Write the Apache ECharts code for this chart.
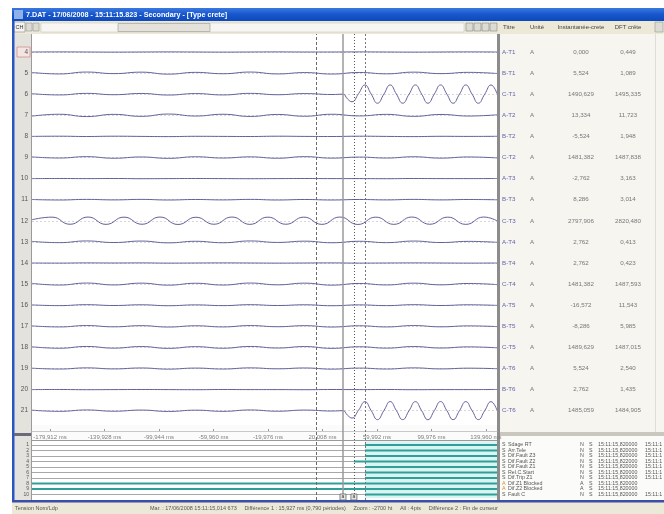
<!DOCTYPE html>
<html><head><meta charset="utf-8">
<script src="https://cdn.jsdelivr.net/npm/echarts@6/dist/echarts.min.js"></script>
<style>html,body{margin:0;padding:0;background:#fff}#c{width:664px;height:514px}</style>
</head><body><div id="c"></div>
<script>
// ---------- data ----------
const channelNumbers = [4,5,6,7,8,9,10,11,12,13,14,15,16,17,18,19,20,21];
const channelTitles = ["A-T1","B-T1","C-T1","A-T2","B-T2","C-T2","A-T3","B-T3","C-T3","A-T4","B-T4","C-T4","A-T5","B-T5","C-T5","A-T6","B-T6","C-T6"];
const channelUnits = ["A","A","A","A","A","A","A","A","A","A","A","A","A","A","A","A","A","A"];
const instantValues = ["0,000","5,524","1490,629","13,334","-5,524","1481,382","-2,762","8,286","2797,906","2,762","2,762","1481,382","-16,572","-8,286","1489,629","5,524","2,762","1485,059"];
const dftValues = ["0,449","1,089","1495,335","11,723","1,948","1487,838","3,163","3,014","2820,480","0,413","0,423","1487,593","11,543","5,985","1487,015","2,540","1,435","1484,905"];
const tableHeaders = ["Titre","Unité","Instantanée-crete","DFT crête"];
const timeTicks = [-179.912,-139.928,-99.944,-59.960,-19.976,20.008,59.992,99.976,139.960];
const timeMin = -193.1, timeMax = 148.1;
const cursorTimes = [15.3, 35.1, 43.1, 51.2];

const noiseTimes = [-193.1,-173,-153,-133,-113,-93,-73,-53,-33,-13,7,27,47,67,87,107,127,148.1];
const aT1 = [0,0.01,0,-0.01,0,0.01,0,-0.01,0,0.01,0,0,0.01,0,-0.01,0,0.01,0];
const bT1 = [0.06,-0.08,0.1,-0.05,0.09,-0.1,0.07,-0.06,0.1,-0.08,0.05,-0.09,0.06,-0.07,0.09,-0.05,0.07,-0.04];
const cT1Pre = [0.05,-0.07,0.08,-0.05,0.07,-0.08,0.06,-0.07,0.08,-0.05,0.06,-0.03];
const cT1FaultTimes = [35.1,38.4,41.7,46.5,51.2,55.8,60.4,65.1,69.7,74.3,78.9,83.6,88.2,92.8,97.4,102.1,106.7,111.3,115.9,120.6,125.2,129.8,134.4,139.1,143.7,148.1];
const cT1FaultValues = [0,-0.45,-0.72,0.05,0.88,0.01,-0.86,0.01,0.88,0.01,-0.86,0.01,0.88,0.01,-0.86,0.01,0.88,0.01,-0.86,0.01,0.88,0.01,-0.86,0.01,0.88,0.05];
const aT2 = [-0.08,0.1,-0.12,0.09,-0.1,0.12,-0.07,0.1,-0.11,0.08,-0.09,0.1,-0.06,0.09,-0.1,0.08,-0.07,0.05];
const bT2 = [0,0.02,-0.01,0.02,0,-0.02,0.01,0,-0.01,0.02,0,-0.01,0.02,0,-0.02,0.01,0,0.01];
const cT2 = [0.06,-0.05,0.08,-0.07,0.05,-0.08,0.07,-0.05,0.06,-0.07,0.08,-0.06,0.04,-0.05,0.07,-0.06,0.05,-0.04];
const aT3 = [0,0.01,0,0.01,-0.01,0,0.01,0,-0.01,0,0.01,0,0,-0.01,0.01,0,0,0.01];
const bT3 = [0.02,-0.03,0.03,-0.02,0.03,-0.03,0.02,-0.02,0.03,-0.03,0.02,-0.03,0.02,-0.02,0.03,-0.02,0.02,-0.01];
const cT3Times = [-193.1,-178.4,-165.2,-152.0,-138.8,-125.6,-112.4,-99.2,-86.0,-72.8,-59.6,-46.4,-33.2,-20.0,-6.8,6.4,19.6,32.8,46.0,59.2,72.4,85.6,98.8,112.0,125.2,138.4,148.1];
const cT3Values = [0.1,0.35,-0.33,0.36,-0.34,0.35,-0.33,0.36,-0.35,0.34,-0.33,0.36,-0.34,0.35,-0.33,0.35,-0.34,0.36,-0.35,0.35,-0.34,0.36,-0.33,0.35,-0.34,0.36,0.0];
const aT4 = [0.05,-0.07,0.09,-0.06,0.08,-0.09,0.06,-0.08,0.09,-0.05,0.07,-0.08,0.06,-0.07,0.08,-0.06,0.05,-0.04];
const bT4 = [0,-0.01,0.01,0,0.01,-0.01,0,0.01,0,-0.01,0,0.01,-0.01,0,0.01,0,-0.01,0];
const cT4 = [0.07,-0.09,0.1,-0.08,0.09,-0.1,0.08,-0.09,0.1,-0.07,0.09,-0.1,0.06,-0.08,0.09,-0.07,0.06,-0.05];
const aT5 = [0.03,-0.04,0.05,-0.03,0.04,-0.05,0.03,-0.04,0.05,-0.03,0.04,-0.05,0.03,-0.04,0.05,-0.03,0.04,-0.02];
const bT5 = [0.04,-0.06,0.07,-0.05,0.06,-0.07,0.05,-0.06,0.07,-0.04,0.06,-0.07,0.05,-0.06,0.07,-0.05,0.04,-0.03];
const cT5 = [0.06,-0.08,0.09,-0.07,0.08,-0.09,0.07,-0.08,0.09,-0.06,0.08,-0.09,0.06,-0.07,0.08,-0.06,0.05,-0.04];
const aT6 = [0.03,-0.05,0.06,-0.04,0.05,-0.06,0.04,-0.05,0.06,-0.03,0.05,-0.06,0.04,-0.05,0.06,-0.04,0.03,-0.02];
const bT6 = [0,0.01,-0.01,0,0.01,0,-0.01,0.01,0,0,-0.01,0.01,0,0.01,-0.01,0,0,0.01];
const cT6Pre = [0.05,-0.06,0.07,-0.05,0.06,-0.07,0.05,-0.06,0.07,-0.05,0.06,-0.03];
const cT6FaultTimes = [35.1,38.4,41.7,46.5,51.2,55.8,60.4,65.1,69.7,74.3,78.9,83.6,88.2,92.8,97.4,102.1,106.7,111.3,115.9,120.6,125.2,129.8,134.4,139.1,143.7,148.1];
const cT6FaultValues = [0,-0.43,-0.7,0.04,0.86,0.01,-0.85,0.01,0.87,0.01,-0.85,0.01,0.86,0.01,-0.86,0.01,0.87,0.01,-0.85,0.01,0.86,0.01,-0.85,0.01,0.86,0.05];

const digitalNumbers = ["1","2","3","4","5","6","7","8","9","10"];
const digitalKinds = ["S","S","S","S","S","S","S","A","A","S"];
const digitalNames = ["Sdage RT","Arr.Tele","Dif.Fault Z3","Dif.Fault Z2","Dif.Fault Z1","Rel.C.Start","Dif.Trip Z1","Dif.Z1 Blocked","Dif.Z2 Blocked","Fault C"];
const digitalFlagA = ["N","N","N","N","N","N","N","A","A","N"];
const digitalFlagB = ["S","S","S","S","S","S","S","S","S","S"];
const digitalTime1 = ["15:11:15,820000","15:11:15,820000","15:11:15,820000","15:11:15,822000","15:11:15,820000","15:11:15,820000","15:11:15,820000","15:11:15,820000","15:11:15,820000","15:11:15,820000"];
const digitalTime2 = ["15:11:1","15:11:1","15:11:1","15:11:1","15:11:1","15:11:1","15:11:1","","","15:11:1"];
const digitalOnTimes = [51.2,51.2,51.2,43.1,51.2,51.2,51.2,-193.1,-193.1,51.2];

const titleText = "7.DAT - 17/06/2008 - 15:11:15.823 - Secondary - [Type crete]";
const statusLeft = "Tension Nom/Ldp";
const statusMain = "Mar. : 17/06/2008 15:11:15,014 673     Différence 1 : 15,927 ms (0,790 périodes)     Zoom : -2700 ht     All : 4pts     Différence 2 : Fin de curseur";

// ---------- build ----------
const pairs = (ts, vs) => vs.map((v, i) => [ts[i], v]);
const analogData = [
  pairs(noiseTimes, aT1), pairs(noiseTimes, bT1),
  pairs(noiseTimes, cT1Pre).concat(pairs(cT1FaultTimes, cT1FaultValues)),
  pairs(noiseTimes, aT2), pairs(noiseTimes, bT2), pairs(noiseTimes, cT2),
  pairs(noiseTimes, aT3), pairs(noiseTimes, bT3), pairs(cT3Times, cT3Values),
  pairs(noiseTimes, aT4), pairs(noiseTimes, bT4), pairs(noiseTimes, cT4),
  pairs(noiseTimes, aT5), pairs(noiseTimes, bT5), pairs(noiseTimes, cT5),
  pairs(noiseTimes, aT6), pairs(noiseTimes, bT6),
  pairs(noiseTimes, cT6Pre).concat(pairs(cT6FaultTimes, cT6FaultValues))
];

const FONT = 'Liberation Sans';
const PL = 32, PW = 465, ROW0 = 41.5, PITCH = 21.1, RH = 21;
const rowCenter = k => ROW0 + PITCH * k + RH / 2;

const grids = [], xAxes = [], yAxes = [], series = [];
analogData.forEach((d, k) => {
  grids.push({left: PL, width: PW, top: ROW0 + PITCH * k, height: RH});
  xAxes.push({gridIndex: k, type: 'value', min: timeMin, max: timeMax, show: false});
  yAxes.push({gridIndex: k, type: 'value', min: -1, max: 1, interval: 1,
    axisLine: {show: false}, axisTick: {show: false},
    axisLabel: {show: true, margin: 4, fontSize: 6.5, color: '#555', fontFamily: FONT,
      formatter: v => v === 0 ? String(channelNumbers[k]) : ''},
    splitLine: {show: true, lineStyle: {color: ['rgba(0,0,0,0)', '#d6d6dc', 'rgba(0,0,0,0)'], type: [2, 2], width: 1}}});
  series.push({type: 'line', xAxisIndex: k, yAxisIndex: k, data: d, showSymbol: false, symbol: 'none',
    smooth: 0.5, z: 3, silent: true, animation: false,
    lineStyle: {color: '#62629a', width: 1}});
});

// time axis strip
const TI = grids.length;
grids.push({left: PL, width: PW, top: 424, height: 7});
xAxes.push({gridIndex: TI, type: 'value', min: timeMin, max: timeMax, position: 'bottom',
  axisLine: {show: true, lineStyle: {color: '#c8c8c8'}},
  axisTick: {show: true, customValues: timeTicks, length: 2, inside: true, lineStyle: {color: '#999'}},
  axisLabel: {show: true, customValues: timeTicks, margin: 3, fontSize: 6, color: '#808080', fontFamily: FONT,
    formatter: v => v.toFixed(3).replace('.', ',') + ' ms'},
  splitLine: {show: false}});
yAxes.push({gridIndex: TI, type: 'value', min: 0, max: 1, show: false});

// digital grid
const DI = grids.length;
grids.push({left: PL, width: PW, top: 439.5, height: 60.5});
xAxes.push({gridIndex: DI, type: 'value', min: timeMin, max: timeMax, show: false});
const digSplitColors = ['rgba(0,0,0,0)'].concat(digitalNumbers.map(() => '#a8a8a8')).concat(['rgba(0,0,0,0)']);
yAxes.push({gridIndex: DI, type: 'value', min: 0, max: digitalNumbers.length + 1, interval: 1, inverse: true,
  axisLine: {show: false}, axisTick: {show: false},
  axisLabel: {show: true, margin: 3, fontSize: 5, color: '#555', fontFamily: FONT,
    formatter: v => (v >= 1 && v <= digitalNumbers.length) ? digitalNumbers[v - 1] : ''},
  splitLine: {show: true, lineStyle: {color: digSplitColors, width: 1}}});
digitalOnTimes.forEach((t, i) => {
  const s = {type: 'line', xAxisIndex: DI, yAxisIndex: DI, data: [[t, i + 1], [timeMax, i + 1]],
    symbol: 'none', silent: true, animation: false, z: 4,
    lineStyle: {color: '#2f9f98', width: 2}};
  if (i === 0) {
    s.markArea = {silent: true, itemStyle: {color: '#d9f4f3'}, z: 1,
      data: [[{xAxis: cursorTimes[3], yAxis: 0.3}, {xAxis: timeMax, yAxis: digitalNumbers.length + 0.7}]]};
  }
  series.push(s);
});

// overlay for cursors
const OI = grids.length;
grids.push({left: PL, width: PW, top: 34, height: 466});
xAxes.push({gridIndex: OI, type: 'value', min: timeMin, max: timeMax, show: false});
yAxes.push({gridIndex: OI, type: 'value', min: 0, max: 1, show: false});
const cursorStyles = [
  {type: [3, 2], color: '#6a6a6a', width: 1},
  {type: 'solid', color: '#9a9a9a', width: 1.5},
  {type: [1, 2], color: '#555', width: 1},
  {type: [2, 2], color: '#777', width: 1}
];
series.push({type: 'line', xAxisIndex: OI, yAxisIndex: OI, data: [[timeMin, 0]], symbol: 'none',
  lineStyle: {opacity: 0}, silent: true, animation: false, z: 5,
  markLine: {silent: true, symbol: 'none', label: {show: false}, animation: false,
    data: cursorTimes.map((t, i) => ({xAxis: t, lineStyle: cursorStyles[i]}))},
  markPoint: {silent: true, animation: false, symbol: 'rect', symbolSize: [6, 6],
    itemStyle: {color: '#e8e8e8', borderColor: '#666', borderWidth: 0.8},
    label: {show: true, fontSize: 5, color: '#333', formatter: 'a'},
    data: [{coord: [cursorTimes[1], 0], symbolOffset: [0, -3]}, {coord: [cursorTimes[2], 0], symbolOffset: [0, -3]}]}
});

// ---------- chrome / text ----------
const g = [];
const rect = (x, y, w, h, fill, extra) => g.push(Object.assign({type: 'rect', shape: {x, y, width: w, height: h}, style: {fill}, z: -10, silent: true}, extra || {}));
const txt = (x, y, text, opt) => g.push({type: 'text', x, y, silent: true, z: 10,
  style: Object.assign({text, fontSize: 6.5, fontFamily: FONT, fill: '#555', textVerticalAlign: 'middle', textAlign: 'left'}, opt || {})});

rect(12, 8, 652, 506, '#ece9d8');
rect(12, 8, 652, 13, {type: 'linear', x: 0, y: 0, x2: 0, y2: 1, colorStops: [{offset: 0, color: '#3a78e0'}, {offset: 0.5, color: '#1756cc'}, {offset: 1, color: '#0d49bb'}]});
rect(14, 10, 9, 9, '#8fb0e8');
txt(26, 14.8, titleText, {fill: '#ffffff', fontWeight: 'bold', fontSize: 7.2});
// toolbar
rect(14, 22, 11, 10, '#f4f3ee', {style: {fill: '#f4f3ee', stroke: '#8a8a8a', lineWidth: 0.6}});
txt(15.5, 27, 'CH', {fontSize: 5.5, fill: '#333'});
rect(26, 23, 6, 8, '#dcdcd4', {style: {fill: '#dcdcd4', stroke: '#888', lineWidth: 0.5}});
rect(33, 23, 6, 8, '#dcdcd4', {style: {fill: '#dcdcd4', stroke: '#888', lineWidth: 0.5}});
rect(41, 23, 423, 9, '#f7f6f2', {style: {fill: '#f7f6f2', stroke: '#c4c2b8', lineWidth: 0.5}});
rect(118, 23.5, 92, 8, '#e4e2da', {style: {fill: '#e4e2da', stroke: '#9a9890', lineWidth: 0.6}});
[466, 474, 482, 490].forEach(x => rect(x, 23, 7, 8, '#dcdcd4', {style: {fill: '#dcdcd4', stroke: '#777', lineWidth: 0.5}}));
// table header
txt(503, 27.5, tableHeaders[0], {fontSize: 6, fill: '#444'});
txt(530, 27.5, tableHeaders[1], {fontSize: 6, fill: '#444'});
txt(581, 27.5, tableHeaders[2], {fontSize: 6, fill: '#444', textAlign: 'center'});
txt(628, 27.5, tableHeaders[3], {fontSize: 6, fill: '#444', textAlign: 'center'});
rect(655, 22, 8, 10, '#dcdcd4', {style: {fill: '#dcdcd4', stroke: '#888', lineWidth: 0.5}});
// plot area background
rect(32, 34, 465, 391, '#ffffff');
rect(32, 425, 465, 15, '#fbfbfb');
rect(32, 440, 465, 60, '#ffffff');
g.push({type: 'line', shape: {x1: 32, y1: 440.5, x2: 497, y2: 440.5}, style: {stroke: '#9a9a9a', lineWidth: 1}, z: -5, silent: true});
// left column
rect(14, 34, 18, 466, '#e3e2dc');
g.push({type: 'line', shape: {x1: 31.5, y1: 34, x2: 31.5, y2: 500}, style: {stroke: '#9a9a9a', lineWidth: 1}, z: -5, silent: true});
rect(12, 21, 2.5, 481, '#2a56c4');
rect(14, 433, 18, 3, '#6a6a7a');
rect(17, rowCenter(0) - 5, 13, 10, '#f3e6e2', {style: {fill: '#f3e6e2', stroke: '#d09090', lineWidth: 0.8}});
// divider + right panels
rect(497, 34, 3, 466, '#8c8c8c');
rect(500, 34, 164, 398, '#f6f5f0');
rect(500, 432, 164, 4, '#c9c7be');
rect(500, 436, 164, 64, '#fbfbf9');
g.push({type: 'line', shape: {x1: 655.5, y1: 34, x2: 655.5, y2: 432}, style: {stroke: '#dedcd4', lineWidth: 1}, z: -5, silent: true});
// bottom bar
rect(12, 500, 652, 2.5, '#3b4fa8');
txt(15, 508, statusLeft, {fontSize: 5.5, fill: '#555'});
txt(150, 508, statusMain, {fontSize: 5.5, fill: '#555'});

// analog table rows
channelTitles.forEach((t, k) => {
  const y = rowCenter(k);
  txt(502, y, t, {fontSize: 6.2, fill: '#6464a8'});
  txt(530, y, channelUnits[k], {fontSize: 6.2, fill: '#777'});
  txt(581, y, instantValues[k], {fontSize: 6.2, fill: '#777', textAlign: 'center'});
  txt(628, y, dftValues[k], {fontSize: 6.2, fill: '#777', textAlign: 'center'});
});
// digital list rows
digitalNames.forEach((n, i) => {
  const y = 439.5 + 5.5 * (i + 1);
  const o = {fontSize: 5.3, fill: '#555'};
  txt(502, y, digitalKinds[i], Object.assign({}, o, {fill: digitalKinds[i] === 'A' ? '#d08a30' : '#555'}));
  txt(508, y, n, o);
  txt(580, y, digitalFlagA[i], o);
  txt(589, y, digitalFlagB[i], o);
  txt(598, y, digitalTime1[i], o);
  txt(645, y, digitalTime2[i], o);
});

const chart = echarts.init(document.getElementById('c'), null, {renderer: 'canvas'});
chart.setOption({
  backgroundColor: '#ffffff',
  animation: false,
  grid: grids, xAxis: xAxes, yAxis: yAxes, series: series,
  graphic: {elements: g}
});
</script>
</body></html>
